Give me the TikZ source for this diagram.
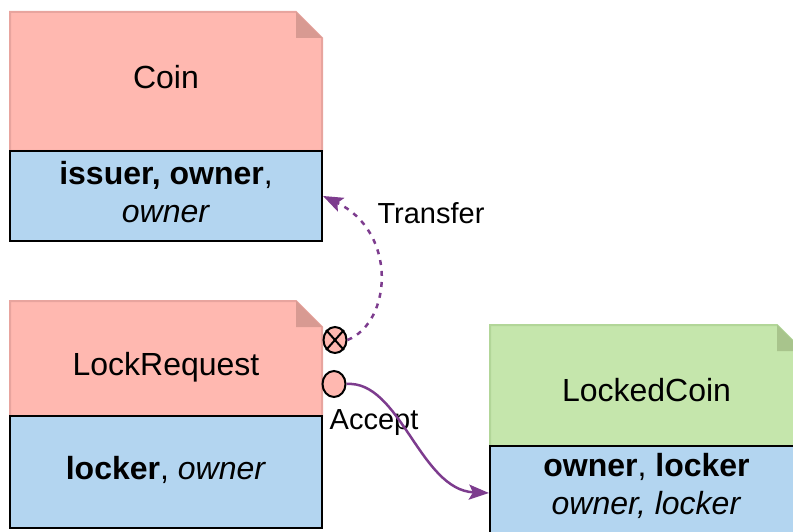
\documentclass[tikz,border=0pt]{standalone}
\usepackage{fontspec}
\setmainfont{Liberation Sans}
\usetikzlibrary{arrows.meta,shapes.geometric}

\definecolor{notepink}{RGB}{255,184,176}
\definecolor{notepinkline}{RGB}{232,164,158}
\definecolor{foldpink}{RGB}{216,154,146}
\definecolor{notegreen}{RGB}{197,230,172}
\definecolor{notegreenline}{RGB}{178,214,152}
\definecolor{foldgreen}{RGB}{168,196,140}
\definecolor{fieldblue}{RGB}{179,213,240}
\definecolor{flowpurple}{RGB}{125,60,142}

\tikzset{
  classname/.style={font=\fontsize{32}{38}\selectfont},
  fields/.style={font=\fontsize{32}{38}\selectfont, align=center},
  fieldbox/.style={draw=black, fill=fieldblue, line width=2pt, inner sep=0pt},
  port/.style={draw=black, fill=notepink, ellipse, line width=2pt,
    minimum width=23pt, minimum height=26pt, inner sep=0pt},
  flowlabel/.style={font=\fontsize{29}{34}\selectfont},
  flow/.style={draw=flowpurple, line width=2.5pt,
    -{Stealth[length=20pt,width=15pt,inset=4pt]}},
}

\begin{document}
\begin{tikzpicture}[x=1pt,y=-1pt]
    \useasboundingbox (0,0) rectangle (793,532);

    % Coin
    \filldraw[fill=notepink, draw=notepinkline, line width=2pt]
      (10,12) -- (296,12) -- (322,38) -- (322,151) -- (10,151) -- cycle;
    \fill[foldpink] (296,12) -- (296,38) -- (322,38) -- cycle;
    \node[fieldbox, minimum width=312pt, minimum height=90pt] (coinbox) at (166,196) {};
    \node[classname] (coin) at (166,77) {Coin};
    \node[fields] (coinfields) at (166,192) {\textbf{issuer, owner}, \\ \textit{owner}};

    % LockRequest
    \filldraw[fill=notepink, draw=notepinkline, line width=2pt]
      (10,301) -- (296,301) -- (322,327) -- (322,416) -- (10,416) -- cycle;
    \fill[foldpink] (296,301) -- (296,327) -- (322,327) -- cycle;
    \node[fieldbox, minimum width=312pt, minimum height=112pt] (lockbox) at (166,472) {};
    \node[classname] (lock) at (166,367) {LockRequest};
    \node[fields] (lockfields) at (166,470) {\textbf{locker}, \textit{owner}};

    % LockedCoin
    \filldraw[fill=notegreen, draw=notegreenline, line width=2pt]
      (490,325) -- (777,325) -- (803,351) -- (803,446) -- (490,446) -- cycle;
    \fill[foldgreen] (777,325) -- (777,351) -- (803,351) -- cycle;
    \node[fieldbox, minimum width=313pt, minimum height=94pt] (lockedbox) at (646.5,493) {};
    \node[classname] (locked) at (646.5,390) {LockedCoin};
    \node[fields] (lockedfields) at (646.5,486) {\textbf{owner}, \textbf{locker} \\ \textit{owner, locker}};

    % ports
    \node[port] (xfer) at (335,340) {};
    \draw[line width=2pt] (xfer.north west) -- (xfer.south east)
                          (xfer.north east) -- (xfer.south west);
    \node[port] (accept) at (334,384) {};

    \node[flowlabel] (xferlabel) at (431,213) {Transfer};
    \node[flowlabel] (acceptlabel) at (374,423) {Accept};

    \draw[flow, dash pattern=on 5pt off 6pt]
      (xfer.east) .. controls (392,322) and (398,232) .. (coinbox.east);
    \draw[flow]
      (accept.east) .. controls (400,380) and (420,490) .. (lockedbox.west);
\end{tikzpicture}
\end{document}
